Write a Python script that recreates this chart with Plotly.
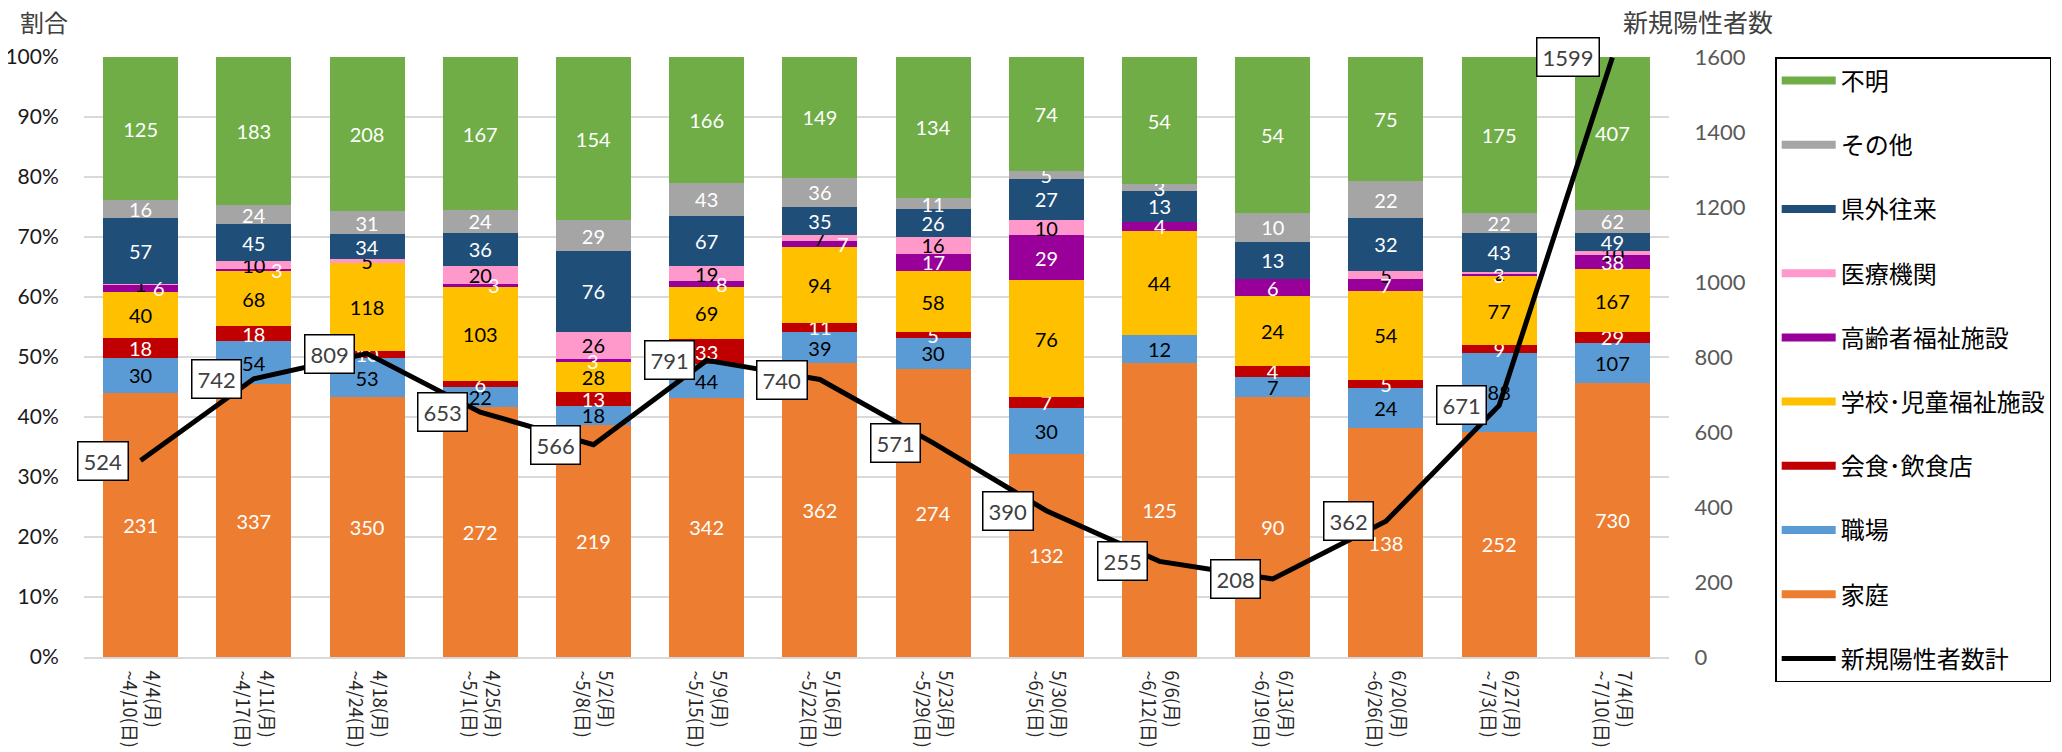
import plotly.graph_objects as go

weeks = ["4/4(月)<br>~4/10(日)", "4/11(月)<br>~4/17(日)", "4/18(月)<br>~4/24(日)", "4/25(月)<br>~5/1(日)",
         "5/2(月)<br>~5/8(日)", "5/9(月)<br>~5/15(日)", "5/16(月)<br>~5/22(日)", "5/23(月)<br>~5/29(日)",
         "5/30(月)<br>~6/5(日)", "6/6(月)<br>~6/12(日)", "6/13(月)<br>~6/19(日)", "6/20(月)<br>~6/26(日)",
         "6/27(月)<br>~7/3(日)", "7/4(月)<br>~7/10(日)"]

katei    = [231, 337, 350, 272, 219, 342, 362, 274, 132, 125, 90, 138, 252, 730]
shokuba  = [30, 54, 53, 22, 18, 44, 39, 30, 30, 12, 7, 24, 88, 107]
kaishoku = [18, 18, 10, 6, 13, 33, 11, 5, 7, 0, 4, 5, 9, 29]
gakko    = [40, 68, 118, 103, 28, 69, 94, 58, 76, 44, 24, 54, 77, 167]
koreisha = [6, 3, 0, 3, 3, 8, 7, 17, 29, 4, 6, 7, 3, 38]
iryo     = [1, 10, 5, 20, 26, 19, 7, 16, 10, 0, 0, 5, 2, 10]
kengai   = [57, 45, 34, 36, 76, 67, 35, 26, 27, 13, 13, 32, 43, 49]
sonota   = [16, 24, 31, 24, 29, 43, 36, 11, 5, 3, 10, 22, 22, 62]
fumei    = [125, 183, 208, 167, 154, 166, 149, 134, 74, 54, 54, 75, 175, 407]
totals   = [524, 742, 809, 653, 566, 791, 740, 571, 390, 255, 208, 362, 671, 1599]

series = [
    ("家庭", katei, "#ED7D31", "white"),
    ("職場", shokuba, "#5B9BD5", "black"),
    ("会食･飲食店", kaishoku, "#C00000", "white"),
    ("学校･児童福祉施設", gakko, "#FFC000", "black"),
    ("高齢者福祉施設", koreisha, "#990099", "white"),
    ("医療機関", iryo, "#FF99CC", "black"),
    ("県外往来", kengai, "#1F4E79", "white"),
    ("その他", sonota, "#A5A5A5", "white"),
    ("不明", fumei, "#70AD47", "white"),
]

# horizontal nudges (px) for the small 高齢者福祉施設 labels, as in the original
koreisha_xshift = [18, 23, 0, 14, 0, 15, 23, 0, 0, 0, 0, 0, 0, 0]

FONT = "Lato, 'Noto Sans CJK JP', sans-serif"
JPFONT = "'Noto Sans CJK JP', sans-serif"
xs = list(range(len(weeks)))

fig = go.Figure()
n_series = len(series)
for i, (name, vals, color, tcolor) in enumerate(series):
    is_kor = name == "高齢者福祉施設"
    texts = ["" if (v == 0 or is_kor) else str(v) for v in vals]
    fig.add_trace(go.Bar(
        x=xs, y=vals, name=name, marker=dict(color=color, line=dict(width=0)),
        text=texts, textposition="inside", insidetextanchor="middle",
        constraintext="none", textangle=0,
        textfont=dict(color=tcolor, size=20, family=FONT),
        showlegend=False, hoverinfo="skip",
    ))
    # legend entry (line-style key like the original)
    fig.add_trace(go.Scatter(
        x=[None], y=[None], mode="lines", name=name,
        line=dict(color=color, width=8),
        legendgroup=name, legendrank=n_series - i, showlegend=True,
    ))

fig.add_trace(go.Scatter(
    x=xs, y=totals, mode="lines", name="新規陽性者数計", yaxis="y2",
    line=dict(color="black", width=5), legendgroup="total", legendrank=100,
))

annotations = []
# 高齢者 labels at the centre of their segment
below_lists = [katei, shokuba, kaishoku, gakko]
below = [sum(lst[j] for lst in below_lists) for j in xs]
for j in xs:
    v = koreisha[j]
    if v == 0:
        continue
    ypct = (below[j] + v / 2) / totals[j] * 100
    annotations.append(dict(x=j, y=ypct, xref="x", yref="y", text=str(v), showarrow=False,
                            xshift=koreisha_xshift[j],
                            font=dict(color="white", size=20, family=FONT)))

# boxed total labels
for j in xs:
    annotations.append(dict(x=j, y=totals[j], xref="x", yref="y2", text=str(totals[j]),
                            showarrow=False, xanchor="right", yanchor="middle", xshift=-12,
                            bgcolor="white", bordercolor="black", borderwidth=1.5, borderpad=5,
                            font=dict(color="#404040", size=22, family=FONT)))

annotations.append(dict(x=0, y=1, xref="paper", yref="paper", text="割合", showarrow=False,
                        xanchor="center", yanchor="middle", xshift=-40, yshift=35,
                        font=dict(color="#404040", size=24, family=FONT)))
annotations.append(dict(x=1, y=1, xref="paper", yref="paper", text="新規陽性者数", showarrow=False,
                        xanchor="center", yanchor="middle", xshift=29, yshift=35,
                        font=dict(color="#404040", size=25, family=FONT)))

fig.update_layout(
    width=2062, height=752,
    margin=dict(l=76, r=401, t=49, b=103, autoexpand=False),
    paper_bgcolor="white", plot_bgcolor="white",
    barmode="stack", barnorm="percent", bargap=0.337,
    font=dict(family=FONT),
    xaxis=dict(tickvals=xs, ticktext=weeks, range=[-0.5, len(weeks) - 0.5],
               tickangle=90, tickfont=dict(size=18, color="#262626", family=JPFONT),
               showline=True, linecolor="#D9D9D9", linewidth=2, showgrid=False,
               ticks="outside", ticklen=8, tickcolor="rgba(0,0,0,0)", zeroline=False,
               automargin=False),
    yaxis=dict(range=[0, 100], dtick=10, ticksuffix="%", showgrid=True, gridcolor="#D9D9D9",
               gridwidth=1.5, zeroline=False, tickfont=dict(size=21, color="#1a1a1a", family=FONT),
               ticks="outside", ticklen=20, tickcolor="rgba(0,0,0,0)", automargin=False),
    yaxis2=dict(range=[0, 1600], dtick=200, overlaying="y", side="right", showgrid=False,
                zeroline=False, tickfont=dict(size=22, color="#595959", family=FONT),
                ticks="outside", ticklen=20, tickcolor="rgba(0,0,0,0)", automargin=False),
    legend=dict(x=1.067, xanchor="left", y=1.0, yanchor="top",
                bordercolor="black", borderwidth=1.5, bgcolor="white",
                font=dict(size=24, color="black", family=JPFONT),
                traceorder="grouped", tracegroupgap=30, itemwidth=54, maxheight=740),
    annotations=annotations,
)

fig.write_html("out.html")
